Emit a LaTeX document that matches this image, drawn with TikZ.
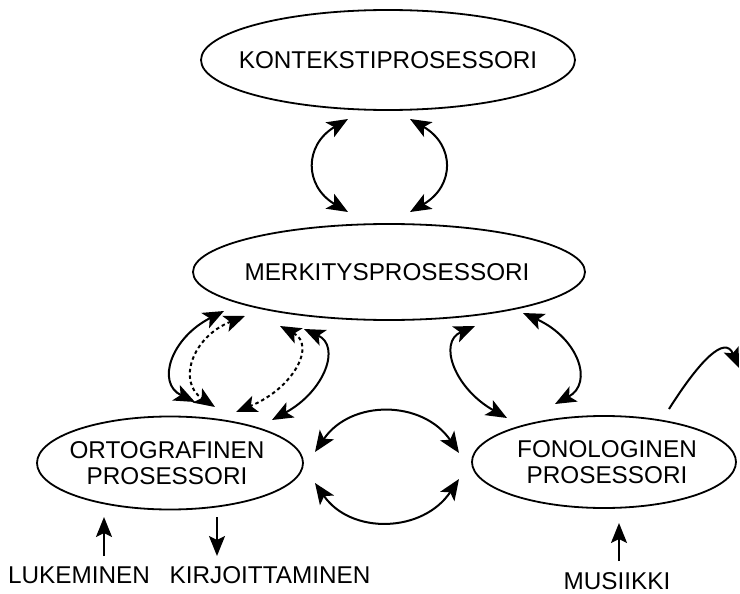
\documentclass[tikz,border=0pt]{standalone}
\usepackage{fontspec}
\setmainfont{Liberation Sans}
\usetikzlibrary{shapes.geometric,arrows.meta}
\tikzset{
  tipA/.tip={Stealth[length=21pt,width=17pt,inset=5pt]},
  tipB/.tip={Stealth[length=20pt,width=16pt,inset=4pt]}
}
\begin{document}
\begin{tikzpicture}[x=1pt,y=-1pt,
  proc/.style={draw,ellipse,line width=1.8pt,inner sep=0pt},
  lbl/.style={font=\fontsize{24.3}{26.5}\selectfont,align=center,inner sep=0pt},
  conn/.style={line width=2pt,arrows={tipA-tipA}},
  dotc/.style={conn,dash pattern=on 3.5pt off 3pt},
  single/.style={line width=2pt,arrows={-tipB}}]
\useasboundingbox (0,0) rectangle (740,594);
% ellipses
\node[proc,minimum width=374pt,minimum height=100pt] (kon) at (388,60) {};
\node[lbl] (kont) at (kon) {KONTEKSTIPROSESSORI};
\node[proc,minimum width=392pt,minimum height=96pt] (mer) at (389,272) {};
\node[lbl] (mert) at (387,272) {MERKITYSPROSESSORI};
\node[proc,minimum width=266pt,minimum height=93pt] (orto) at (170,463) {};
\node[lbl] (ortot) at (167,463) {ORTOGRAFINEN\\PROSESSORI};
\node[proc,minimum width=264pt,minimum height=92pt] (fon) at (604,462) {};
\node[lbl] (font) at (607,462) {FONOLOGINEN\\PROSESSORI};
% bottom labels
\node[lbl] (luk) at (79,575) {LUKEMINEN};
\node[lbl] (kir) at (270,575) {KIRJOITTAMINEN};
\node[lbl] (mus) at (617,581) {MUSIIKKI};
% endpoints
\coordinate (k1) at (348,119); \coordinate (m1) at (348,212);
\coordinate (k2) at (410,119); \coordinate (m2) at (410,212);
\coordinate (m3) at (224,311); \coordinate (o3) at (195,402);
\coordinate (m4) at (245,316); \coordinate (o4) at (215,407);
\coordinate (m5) at (280,326); \coordinate (o5) at (236,412);
\coordinate (m6) at (304,329); \coordinate (o6) at (272,420);
\coordinate (m7) at (475,326); \coordinate (f7) at (507,418);
\coordinate (m8) at (523,313); \coordinate (f8) at (555,404);
\coordinate (o9) at (315,452); \coordinate (f9) at (459,453);
\coordinate (o10) at (315,483); \coordinate (f10) at (459,479);
\coordinate (fx) at (669,409); \coordinate (ex) at (739,368);
\coordinate (lukA) at (104,556); \coordinate (lukB) at (104,517);
\coordinate (kirA) at (217,517); \coordinate (kirB) at (217,556);
\coordinate (musA) at (619,561); \coordinate (musB) at (619,523);
% connectors
\draw[conn] (k1) .. controls (304,145) and (304,186) .. (m1);
\draw[conn] (k2) .. controls (455,145) and (455,186) .. (m2);
\draw[conn] (m3) .. controls (171,338) and (156,383) .. (o3);
\draw[dotc] (m4) .. controls (192,337) and (177,382) .. (o4);
\draw[dotc] (m5) .. controls (316,345) and (294,388) .. (o5);
\draw[conn] (m6) .. controls (341,346) and (325,391) .. (o6);
\draw[conn] (m7) .. controls (438,342) and (454,388) .. (f7);
\draw[conn] (m8) .. controls (578,338) and (594,383) .. (f8);
\draw[conn] (o9) .. controls (351,399) and (423,400) .. (f9);
\draw[conn] (o10) .. controls (351,535) and (423,533) .. (f10);
\draw[single] (fx) .. controls (700,360) and (725,335) .. (ex);
\draw[single] (lukA) -- (lukB);
\draw[single] (kirA) -- (kirB);
\draw[single] (musA) -- (musB);
\end{tikzpicture}
\end{document}
